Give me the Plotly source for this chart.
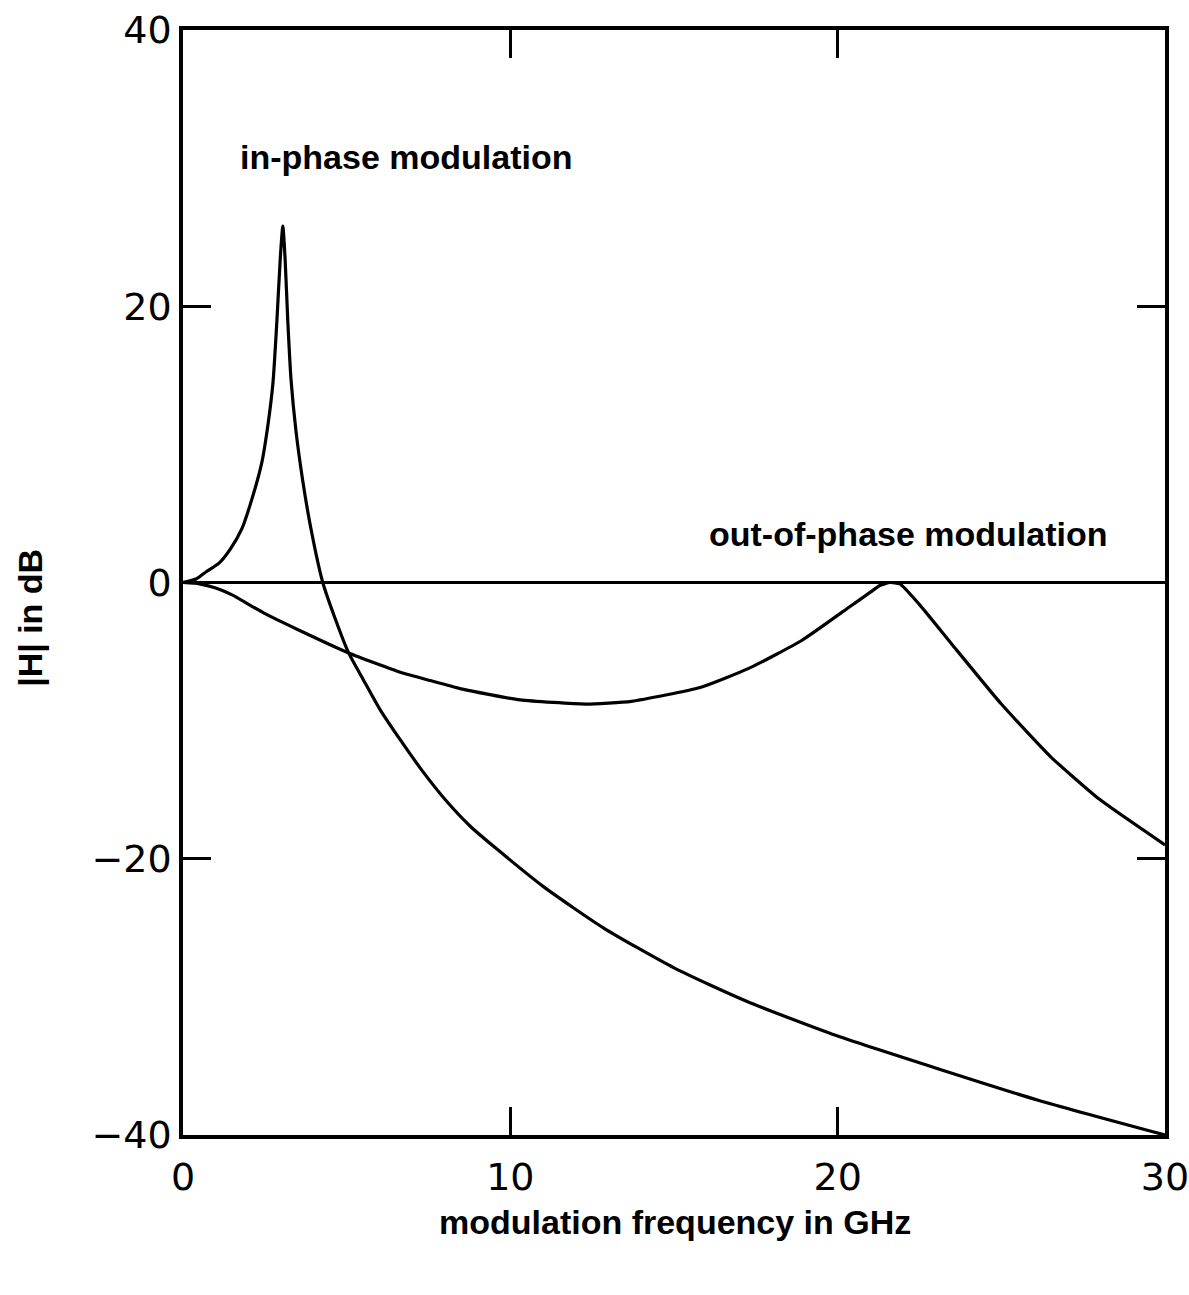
import plotly.graph_objects as go

# Frequency response |H| (dB) versus modulation frequency (GHz)
f_in = [0, 0.4, 0.72, 1.1, 1.44, 1.8, 2.1, 2.4, 2.6, 2.75, 2.87, 2.97, 3.05,
        3.12, 3.2, 3.3, 3.45, 3.65, 3.9, 4.27, 4.6, 5.06, 5.5, 6.02, 6.64,
        7.3, 8.04, 8.8, 9.59, 11.0, 12.84, 15.0, 17.2, 19.96, 23.06, 26.15, 30]
h_in = [0, 0.25, 0.8, 1.4, 2.4, 3.9, 6.0, 8.6, 11.5, 14.5, 19.0, 23.4, 25.8,
        23.4, 19.0, 14.7, 11.0, 7.5, 4.0, 0, -2.3, -5.1, -7.0, -9.2, -11.4,
        -13.6, -15.8, -17.7, -19.3, -22.0, -25.0, -27.9, -30.3, -32.8, -35.2,
        -37.5, -40.0]

f_out = [0, 0.5, 1.0, 1.5, 2.46, 3.5, 5.06, 6.64, 7.55, 8.5, 10.3, 12.3, 13.7,
         15.8, 17.3, 18.9, 20.4, 21.0, 21.3, 21.6, 21.9, 22.5, 23.5, 25.0,
         26.5, 28.0, 30]
h_out = [0, -0.1, -0.4, -0.9, -2.2, -3.4, -5.1, -6.5, -7.1, -7.7, -8.5, -8.8,
         -8.6, -7.6, -6.2, -4.2, -1.7, -0.7, -0.2, 0, -0.1, -1.6, -4.5, -8.8,
         -12.6, -15.7, -19.0]

f_ref = [0, 30]
h_ref = [0, 0]

x_ticks = [0, 10, 20, 30]
y_ticks = [-40, -20, 0, 20, 40]

label_in = "in-phase modulation"
label_out = "out-of-phase modulation"
x_title = "modulation frequency in GHz"
y_title = "|H| in dB"


def tick_text(v):
    return str(v).replace("-", "\u2212")


fig = go.Figure()
fig.add_trace(go.Scatter(x=f_ref, y=h_ref, mode="lines",
                         line=dict(color="black", width=3.2)))
fig.add_trace(go.Scatter(x=f_in, y=h_in, mode="lines",
                         line=dict(color="black", width=3.2, shape="spline",
                                   smoothing=0.6)))
fig.add_trace(go.Scatter(x=f_out, y=h_out, mode="lines",
                         line=dict(color="black", width=3.2, shape="spline",
                                   smoothing=0.5)))

axis_common = dict(
    showgrid=False, zeroline=False, showline=True, mirror="ticks",
    linecolor="black", linewidth=3.5, ticks="inside", ticklen=28,
    tickwidth=3, tickcolor="black", ticklabeloverflow="allow",
    automargin=False,
    tickfont=dict(family="DejaVu Sans", size=38, color="black"),
)

fig.update_xaxes(range=[0, 30], tickvals=x_ticks,
                 ticktext=[tick_text(v) for v in x_ticks],
                 ticklabelstandoff=6, **axis_common)
fig.update_yaxes(range=[-40, 40], tickvals=y_ticks,
                 ticktext=[tick_text(v) for v in y_ticks], ticklabelstandoff=0,
                 **axis_common)

label_font = dict(family="Liberation Sans", size=34, color="black")

fig.add_annotation(x=1.68, y=30.8, xref="x", yref="y", text=f"<b>{label_in}</b>",
                   showarrow=False, xanchor="left", yanchor="middle", font=label_font)
fig.add_annotation(x=16.0, y=3.5, xref="x", yref="y", text=f"<b>{label_out}</b>",
                   showarrow=False, xanchor="left", yanchor="middle", font=label_font)
fig.add_annotation(x=0.501, y=-0.0787, xref="paper", yref="paper",
                   text=f"<b>{x_title}</b>", showarrow=False,
                   xanchor="center", yanchor="middle", font=label_font)
fig.add_annotation(x=-0.1558, y=0.468, xref="paper", yref="paper",
                   text=f"<b>{y_title}</b>", showarrow=False, textangle=-90,
                   xanchor="center", yanchor="middle", font=label_font)

fig.update_layout(
    width=1189, height=1295,
    margin=dict(l=183, r=24, t=30, b=160),
    paper_bgcolor="white", plot_bgcolor="white",
    showlegend=False,
)

fig.write_html("out.html")
